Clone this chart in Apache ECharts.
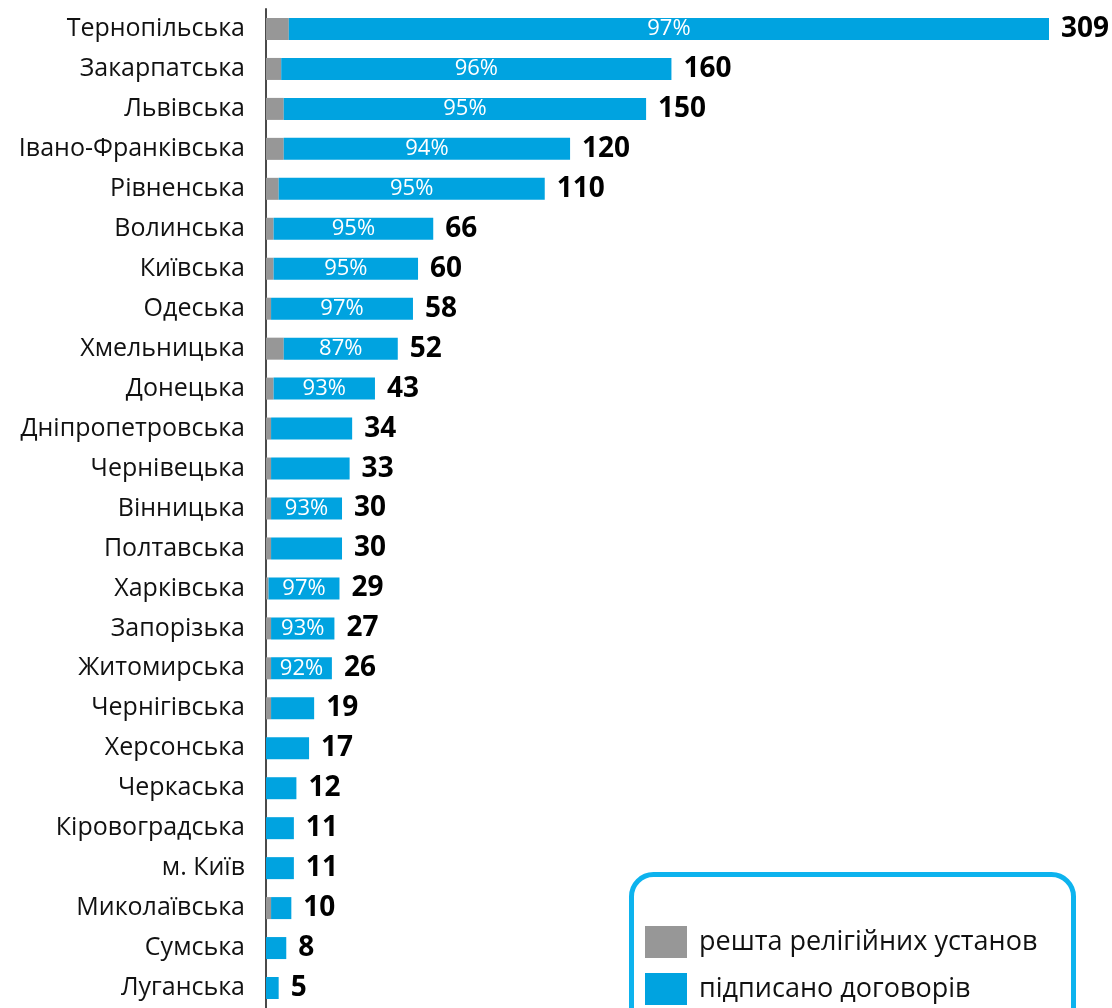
<!DOCTYPE html>
<html><head><meta charset="utf-8">
<script src="https://cdn.jsdelivr.net/npm/echarts@6/dist/echarts.min.js"></script>
<style>html,body{margin:0;padding:0;background:#fff}#c{width:1112px;height:1008px}</style>
</head><body><div id="c"></div>
<script>
const categories = ['Тернопільська','Закарпатська','Львівська','Івано-Франківська','Рівненська','Волинська','Київська','Одеська','Хмельницька','Донецька','Дніпропетровська','Чернівецька','Вінницька','Полтавська','Харківська','Запорізька','Житомирська','Чернігівська','Херсонська','Черкаська','Кіровоградська','м. Київ','Миколаївська','Сумська','Луганська'];
const totals = [309,160,150,120,110,66,60,58,52,43,34,33,30,30,29,27,26,19,17,12,11,11,10,8,5];
const rest = [9,6,7,7,5,3,3,2,7,3,2,2,2,2,1,2,2,2,0,0,0,0,2,0,0];
const signed = [300,154,143,113,105,63,57,56,45,40,32,31,28,28,28,25,24,17,17,12,11,11,8,8,5];
const pctLabels = ['97%','96%','95%','94%','95%','95%','95%','97%','87%','93%','','','93%','','97%','93%','92%','','','','','','','',''];
const legendNames = ['решта релігійних установ','підписано договорів'];

const FONT = 'Open Sans';
const legendText = {fontSize:27, color:'#111', fontFamily:FONT, padding:[0,0,0,7]};
const chart = echarts.init(document.getElementById('c'), null, {renderer:'canvas'});
chart.setOption({
  animation:false,
  textStyle:{fontFamily:FONT},
  grid:{left:266, top:9, width:783, height:1006, containLabel:false},
  xAxis:{type:'value', min:0, max:309, show:false, splitLine:{show:false}},
  yAxis:{type:'category', data:categories, inverse:true,
    axisLine:{show:true, lineStyle:{color:'#4a4a4a', width:2}},
    axisTick:{show:false},
    axisLabel:{fontSize:25, color:'#111', margin:21, fontFamily:FONT}},
  legend:[
    {left:645, top:926, padding:0, itemWidth:42, itemHeight:32, data:[legendNames[0]], icon:'rect', selectedMode:false, textStyle:legendText},
    {left:645, top:973, padding:0, itemWidth:42, itemHeight:32, data:[legendNames[1]], icon:'rect', selectedMode:false, textStyle:legendText}
  ],
  graphic:[{type:'rect', left:629, top:872, shape:{width:442, height:220, r:22},
    style:{fill:'none', stroke:'#0DB3EE', lineWidth:5}, z:-1}],
  series:[
    {name:legendNames[0], type:'bar', stack:'s', barWidth:22, data:rest,
     itemStyle:{color:'#979797'}},
    {name:legendNames[1], type:'bar', stack:'s', barWidth:22, data:signed,
     itemStyle:{color:'#00A3E0'},
     label:{show:true, position:'inside', color:'#fff', fontSize:22, fontFamily:FONT,
       formatter:p=>pctLabels[p.dataIndex]}},
    {name:'total', type:'bar', stack:'s', barWidth:22, data:totals.map(()=>0),
     itemStyle:{color:'transparent'},
     label:{show:true, position:'right', distance:12, color:'#000', fontSize:28, fontWeight:'bold', fontFamily:FONT,
       formatter:p=>String(totals[p.dataIndex])}}
  ]
});
</script></body></html>
